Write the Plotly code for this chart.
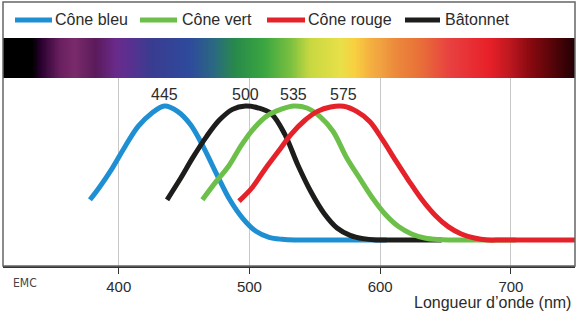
import numpy as np
import plotly.graph_objects as go

# ---------------- data ----------------
series_names = ["Cône bleu", "Cône vert", "Cône rouge", "Bâtonnet"]
peak_labels = {"Cône bleu": "445", "Bâtonnet": "500", "Cône vert": "535", "Cône rouge": "575"}

blue_wl = [378, 385, 395, 405, 415, 425, 435, 445, 455, 465, 475, 485, 495, 505, 515, 525, 535, 545, 555, 565, 575, 585, 595, 605]
blue_val = [0.30, 0.39, 0.535, 0.70, 0.85, 0.945, 1.00, 0.96, 0.86, 0.69, 0.49, 0.30, 0.16, 0.065, 0.02, 0.005, 0.0, 0.0, 0.0, 0.0, 0.0, 0.0, 0.0, 0.0]

black_wl = [437, 447, 457, 467, 477, 487, 497, 507, 517, 527, 537, 547, 557, 567, 577, 587, 597, 607, 617, 627, 637, 647]
black_val = [0.30, 0.455, 0.62, 0.77, 0.895, 0.975, 1.00, 0.985, 0.94, 0.79, 0.56, 0.36, 0.20, 0.09, 0.035, 0.01, 0.0, 0.0, 0.0, 0.0, 0.0, 0.0]

green_wl = [464, 474, 484, 494, 504, 514, 524, 534, 544, 554, 564, 574, 584, 594, 604, 614, 624, 634, 644, 654, 664, 674, 684, 694, 704]
green_val = [0.30, 0.43, 0.55, 0.71, 0.84, 0.93, 0.975, 1.00, 0.985, 0.92, 0.81, 0.62, 0.465, 0.315, 0.19, 0.10, 0.045, 0.015, 0.003, 0.0, 0.0, 0.0, 0.0, 0.0, 0.0]

red_wl = [492, 502, 512, 522, 532, 542, 552, 562, 572, 582, 592, 602, 612, 622, 632, 642, 652, 662, 672, 682, 692, 702, 712, 722, 732, 742, 752]
red_val = [0.29, 0.39, 0.53, 0.66, 0.79, 0.89, 0.96, 0.993, 0.998, 0.96, 0.885, 0.745, 0.59, 0.44, 0.30, 0.185, 0.10, 0.045, 0.015, 0.0, 0.0, 0.0, 0.0, 0.0, 0.0, 0.0, 0.0]

x_ticks = [400, 500, 600, 700]

# spectrum colour stops (wavelength, colour)
spectrum_wl = [311, 334, 340, 355, 366, 382, 397, 408, 424, 454, 473, 489, 511, 531, 546, 569, 580,
               592, 601, 611, 630, 653, 683, 698, 714, 733, 749]
spectrum_col = ["#000000", "#000000", "#2a0030", "#6a2060", "#7a2a6a", "#5a1a5a", "#6a2a8a", "#5a3090",
                "#3a3c90", "#2e4a9c", "#2a6a80", "#288a4a", "#3aa640", "#7ac040", "#c8d840", "#e8e048",
                "#f8d040", "#f4b040", "#f0a040", "#ec8a3c", "#e87038", "#e84040", "#e82028", "#c01820",
                "#8a0a10", "#500408", "#200004"]

colors = {"Cône bleu": "#1e8fd2", "Cône vert": "#6cc04a", "Cône rouge": "#e52229", "Bâtonnet": "#1d1d1b"}
data = {"Cône bleu": (blue_wl, blue_val), "Bâtonnet": (black_wl, black_val),
        "Cône vert": (green_wl, green_val), "Cône rouge": (red_wl, red_val)}
draw_order = ["Cône bleu", "Bâtonnet", "Cône vert", "Cône rouge"]

# ---------------- geometry helpers ----------------
W, H = 577, 311
L, R, T, B = 3, 2, 38, 45
PW, PH = W - L - R, H - T - B
XMIN, XMAX = 311.5, 749
def px(x):
    return (x - L) / PW
def py(y):
    return (H - B - y) / PH

split = (266 - 78) / PH

fig = go.Figure()

# spectrum bar
sx = np.arange(XMIN, XMAX + 1, 1.0)
cs = [[(w - spectrum_wl[0]) / (spectrum_wl[-1] - spectrum_wl[0]), c] for w, c in zip(spectrum_wl, spectrum_col)]
fig.add_trace(go.Heatmap(x=sx, y=[0, 1], z=[sx, sx], colorscale=cs, zmin=spectrum_wl[0], zmax=spectrum_wl[-1],
                         showscale=False, zsmooth="best", xaxis="x2", yaxis="y2", hoverinfo="skip"))

for name in draw_order:
    wl, val = data[name]
    fig.add_trace(go.Scatter(x=wl, y=val, mode="lines", name=name, showlegend=False, cliponaxis=True,
                             line=dict(color=colors[name], width=5, shape="spline", smoothing=1.0)))
    i = int(np.argmax(val))
    fig.add_annotation(x=wl[i], y=val[i], text=peak_labels[name], showarrow=False, xanchor="center",
                       yanchor="bottom", yshift=1, font=dict(size=16, color="#2b2b2b"))

# manual legend
legend_pos = [(15, 52, 53), (140, 177, 180), (267, 305, 306), (405, 440, 443)]
shapes = []
for name, (x0, x1, xt) in zip(series_names, legend_pos):
    shapes.append(dict(type="line", xref="paper", yref="paper", x0=px(x0), x1=px(x1), y0=py(20), y1=py(20),
                       line=dict(color=colors[name], width=5)))
    fig.add_annotation(xref="paper", yref="paper", x=px(xt), y=py(20), text=name, showarrow=False,
                       xanchor="left", yanchor="middle", font=dict(size=16, color="#2b2b2b"))

# frame
shapes.append(dict(type="rect", xref="paper", yref="paper", x0=0, x1=px(575), y0=0, y1=py(2),
                   line=dict(color="#666666", width=1.5), layer="above"))

fig.add_annotation(xref="paper", yref="paper", x=px(573), y=py(302), text="Longueur d’onde (nm)",
                   showarrow=False, xanchor="right", yanchor="middle", font=dict(size=16, color="#2b2b2b"))
fig.add_annotation(xref="paper", yref="paper", x=px(25), y=py(283), text="EMC", showarrow=False,
                   xanchor="center", yanchor="middle",
                   font=dict(size=12, color="#444444", family="Liberation Sans Narrow, DejaVu Sans Condensed"))

fig.update_layout(
    width=W, height=H, margin=dict(l=L, r=R, t=T, b=B),
    paper_bgcolor="white", plot_bgcolor="white",
    font=dict(family="Liberation Sans, Arial, sans-serif", size=16, color="#2b2b2b"),
    shapes=shapes,
    xaxis=dict(range=[XMIN, XMAX], tickvals=x_ticks, ticks="outside", ticklen=6, tickcolor="#333333",
               showgrid=True, gridcolor="#c8c8c8", gridwidth=1, showline=True, linecolor="#333333",
               linewidth=1.5, zeroline=False, tickfont=dict(size=15, color="#2b2b2b"), domain=[0, 1]),
    yaxis=dict(range=[-0.194, 1.209], domain=[0, split], showticklabels=False, showgrid=False,
               zeroline=False, showline=False, ticks=""),
    xaxis2=dict(range=[XMIN, XMAX], matches="x", anchor="y2", showticklabels=False, showgrid=False,
                zeroline=False, ticks="", domain=[0, 1]),
    yaxis2=dict(range=[0, 1], domain=[split, 1], showticklabels=False, showgrid=False, zeroline=False,
                ticks=""),
)

fig.write_html("out.html")
